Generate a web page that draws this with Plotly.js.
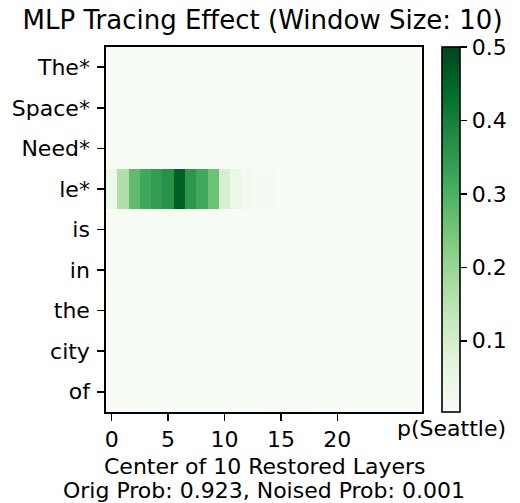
<!DOCTYPE html>
<html>
<head>
<meta charset="utf-8">
<script src="https://cdn.plot.ly/plotly-3.0.1.min.js"></script>
<style>html,body{margin:0;padding:0;background:#fff;}#chart{width:520px;height:503px;}</style>
</head>
<body>
<div id="chart"></div>
<script>
// Token labels (rows, top to bottom)
const tokens = ["The*", "Space*", "Need*", "le*", "is", "in", "the", "city", "of"];
// Layer indices (columns)
const layers = [0,1,2,3,4,5,6,7,8,9,10,11,12,13,14,15,16,17,18,19,20,21,22,23,24,25,26,27];
const xTickVals = [0, 5, 10, 15, 20];
const cbTickVals = [0.1, 0.2, 0.3, 0.4, 0.5];

// p(Seattle) when restoring a window of 10 MLP layers centred at each layer
const rowThe   = [0.003,0.003,0.003,0.003,0.003,0.003,0.003,0.003,0.003,0.003,0.003,0.003,0.003,0.003,0.003,0.003,0.003,0.003,0.003,0.003,0.003,0.003,0.003,0.003,0.003,0.003,0.003,0.003];
const rowSpace = [0.003,0.003,0.003,0.003,0.003,0.003,0.003,0.003,0.003,0.003,0.003,0.003,0.003,0.003,0.003,0.003,0.003,0.003,0.003,0.003,0.003,0.003,0.003,0.003,0.003,0.003,0.003,0.003];
const rowNeed  = [0.003,0.003,0.003,0.003,0.003,0.003,0.003,0.003,0.003,0.003,0.003,0.003,0.003,0.003,0.003,0.003,0.003,0.003,0.003,0.003,0.003,0.003,0.003,0.003,0.003,0.003,0.003,0.003];
const rowLe    = [0.040,0.165,0.275,0.320,0.340,0.365,0.460,0.355,0.320,0.260,0.095,0.045,0.020,0.013,0.012,0.004,0.003,0.003,0.003,0.003,0.003,0.003,0.003,0.003,0.003,0.003,0.003,0.003];
const rowIs    = [0.003,0.003,0.003,0.003,0.007,0.007,0.007,0.004,0.003,0.003,0.003,0.003,0.003,0.003,0.003,0.003,0.003,0.003,0.003,0.003,0.003,0.003,0.003,0.003,0.003,0.003,0.003,0.003];
const rowIn    = [0.003,0.003,0.003,0.003,0.003,0.003,0.003,0.003,0.003,0.003,0.003,0.003,0.003,0.003,0.003,0.003,0.003,0.003,0.003,0.003,0.003,0.003,0.003,0.003,0.003,0.003,0.003,0.003];
const rowThe2  = [0.003,0.003,0.003,0.003,0.003,0.003,0.003,0.003,0.003,0.003,0.003,0.003,0.003,0.003,0.003,0.003,0.003,0.003,0.003,0.003,0.003,0.003,0.003,0.003,0.003,0.003,0.003,0.003];
const rowCity  = [0.003,0.003,0.003,0.003,0.003,0.003,0.003,0.003,0.003,0.003,0.003,0.003,0.003,0.003,0.003,0.003,0.003,0.003,0.003,0.003,0.003,0.003,0.003,0.003,0.003,0.003,0.003,0.003];
const rowOf    = [0.003,0.003,0.003,0.003,0.003,0.003,0.003,0.003,0.003,0.003,0.003,0.003,0.003,0.003,0.007,0.007,0.007,0.007,0.003,0.003,0.003,0.003,0.003,0.003,0.003,0.003,0.003,0.003];

const zData = [rowThe, rowSpace, rowNeed, rowLe, rowIs, rowIn, rowThe2, rowCity, rowOf];

const greens = [
  [0.0, "#f7fcf5"], [0.125, "#e5f5e0"], [0.25, "#c7e9c0"], [0.375, "#a1d99b"],
  [0.5, "#74c476"], [0.625, "#41ab5d"], [0.75, "#238b45"], [0.875, "#006d2c"], [1.0, "#00441b"]
];

const font = {family: "DejaVu Sans", size: 22, color: "#000"};

const trace = {
  type: "heatmap",
  z: zData,
  x: layers,
  y: tokens,
  colorscale: greens,
  zmin: 0.003,
  zmax: 0.5,
  hoverinfo: "skip",
  colorbar: {
    x: 1.0625, xanchor: "left", xref: "paper",
    y: 0.5, yanchor: "middle", len: 1, lenmode: "fraction",
    thickness: 18, thicknessmode: "pixels",
    xpad: 0, ypad: 0,
    outlinewidth: 1.6, outlinecolor: "#000",
    ticks: "outside", ticklen: 7, tickwidth: 1.6, tickcolor: "#000",
    tickvals: cbTickVals,
    ticktext: cbTickVals.map(v => v.toFixed(1)),
    tickfont: font
  }
};

const layout = {
  width: 520, height: 503,
  margin: {l: 106, r: 94, t: 47, b: 91},
  paper_bgcolor: "#fff", plot_bgcolor: "#fff",
  font: font,
  title: {
    text: "MLP Tracing Effect (Window Size: 10)",
    font: {family: "DejaVu Sans", size: 26, color: "#000"},
    x: 0.505, xref: "container", xanchor: "center",
    y: 1 - 20/503, yref: "container", yanchor: "middle"
  },
  xaxis: {
    range: [-0.5, 27.5],
    tickvals: xTickVals,
    ticktext: xTickVals.map(String),
    ticks: "outside", ticklen: 7, tickwidth: 1.6, tickcolor: "#000",
    showline: true, mirror: true, linecolor: "#000", linewidth: 1.7,
    showgrid: false, zeroline: false,
    tickfont: font
  },
  yaxis: {
    autorange: "reversed",
    ticks: "outside", ticklen: 7, tickwidth: 1.6, tickcolor: "#000",
    showline: true, mirror: true, linecolor: "#000", linewidth: 1.7,
    showgrid: false, zeroline: false,
    tickfont: font, ticklabelstandoff: 3
  },
  annotations: [
    {
      text: "Center of 10 Restored Layers", xref: "paper", yref: "paper",
      x: 0.5, y: (412 - 466) / 365, xanchor: "center", yanchor: "middle",
      showarrow: false, font: font
    },
    {
      text: "Orig Prob: 0.923, Noised Prob: 0.001", xref: "paper", yref: "paper",
      x: 0.5, y: (412 - 490) / 365, xanchor: "center", yanchor: "middle",
      showarrow: false, font: font
    },
    {
      text: "p(Seattle)", xref: "paper", yref: "paper",
      x: (455.5 - 106) / 320, y: (412 - 429) / 365, xanchor: "center", yanchor: "middle",
      showarrow: false, font: font
    }
  ]
};

Plotly.newPlot("chart", [trace], layout, {displayModeBar: false, staticPlot: true});
</script>
</body>
</html>
